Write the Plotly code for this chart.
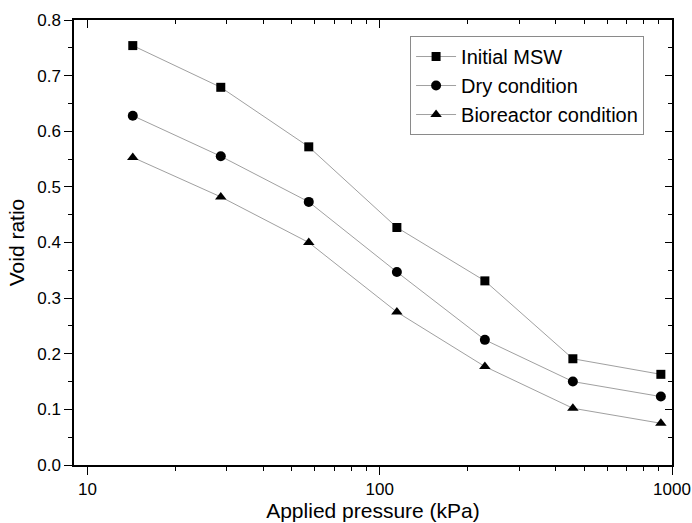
import math
import plotly.graph_objects as go

pressure = [14.3, 28.6, 57.2, 114.5, 229, 458, 916]
initial_msw = [0.754, 0.679, 0.572, 0.427, 0.331, 0.191, 0.163]
dry_condition = [0.628, 0.555, 0.473, 0.347, 0.225, 0.150, 0.123]
bioreactor = [0.553, 0.482, 0.400, 0.275, 0.177, 0.102, 0.075]
series_names = ["Initial MSW", "Dry condition", "Bioreactor condition"]
symbols = ["square", "circle", "triangle-up"]

x_major = [10, 100, 1000]
x_minor = [20, 30, 40, 50, 60, 70, 80, 90, 200, 300, 400, 500, 600, 700, 800, 900]

FONT = "Liberation Sans, Arial, sans-serif"
xr = [math.log10(9.0), 3.0]
yr = [0, 0.8]

fig = go.Figure()
for name, vals, sym in zip(series_names, [initial_msw, dry_condition, bioreactor], symbols):
    fig.add_trace(go.Scatter(
        x=pressure, y=vals, name=name, mode="lines+markers",
        line=dict(color="#a0a0a0", width=1),
        marker=dict(symbol=sym, color="black", size=9 if sym == "square" else 10),
    ))

# invisible trace to anchor mirrored axes with inward ticks
fig.add_trace(go.Scatter(x=[pressure[0]], y=[initial_msw[0]], xaxis="x2", yaxis="y2",
                         mode="markers", marker=dict(opacity=0), showlegend=False,
                         hoverinfo="skip"))

fig.update_layout(
    width=692, height=523,
    margin=dict(l=74, r=20, t=20, b=58),
    paper_bgcolor="white", plot_bgcolor="white",
    font=dict(family=FONT, color="black", size=17),
    showlegend=True,
    legend=dict(x=0.562, y=0.964, xanchor="left", yanchor="top",
                bordercolor="#8a8a8a", borderwidth=1, bgcolor="white",
                font=dict(size=20, family=FONT), itemwidth=40,
                tracegroupgap=0),
    xaxis=dict(type="log", range=xr, tickmode="array", tickvals=x_major,
               ticktext=["10", "100", "1000"],
               ticks="outside", ticklen=8, tickwidth=1, tickcolor="black",
               showline=True, linecolor="black", linewidth=1.5,
               showgrid=False, zeroline=False, automargin=False,
               minor=dict(tickmode="array", tickvals=x_minor, ticks="outside",
                          ticklen=4, tickcolor="black", showgrid=False),
               title=dict(text="Applied pressure (kPa)", font=dict(size=21), standoff=3),
               tickfont=dict(size=17)),
    yaxis=dict(range=yr, dtick=0.1, tick0=0, tickformat=".1f",
               ticks="outside", ticklen=8, tickwidth=1, tickcolor="black",
               showline=True, linecolor="black", linewidth=1.5,
               showgrid=False, zeroline=False, automargin=False,
               minor=dict(dtick=0.05, ticks="outside", ticklen=4,
                          tickcolor="black", showgrid=False),
               title=dict(text="Void ratio", font=dict(size=21), standoff=7),
               tickfont=dict(size=17)),
    xaxis2=dict(type="log", range=xr, overlaying="x", side="top",
                tickmode="array", tickvals=x_major, showticklabels=False,
                ticks="inside", ticklen=8, tickcolor="black",
                showline=True, linecolor="black", linewidth=1.5,
                showgrid=False, zeroline=False, automargin=False,
                minor=dict(tickmode="array", tickvals=x_minor, ticks="inside",
                           ticklen=4, tickcolor="black", showgrid=False)),
    yaxis2=dict(range=yr, overlaying="y", side="right", dtick=0.1, tick0=0,
                showticklabels=False, ticks="inside", ticklen=7, tickcolor="black",
                showline=True, linecolor="black", linewidth=1.5,
                showgrid=False, zeroline=False, automargin=False,
                minor=dict(dtick=0.05, ticks="inside", ticklen=4,
                           tickcolor="black", showgrid=False)),
)

fig.write_html(
    "out.html",
    config={"displayModeBar": False},
    post_script="document.body.style.margin='0';document.body.style.overflow='hidden';",
)
